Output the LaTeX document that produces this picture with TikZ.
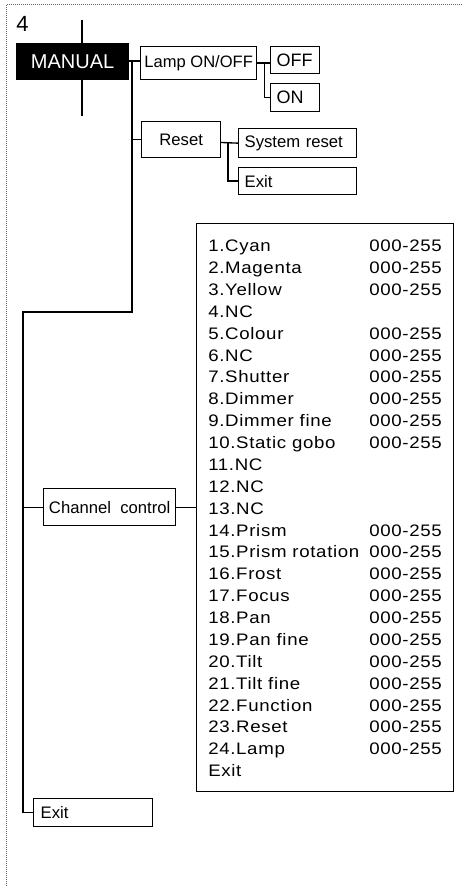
\documentclass[tikz,border=0pt]{standalone}
\usepackage{fontspec}
\setmainfont{Liberation Sans}
\newfontfamily\lsfont{Liberation Sans}[FakeStretch=1.12,LetterSpace=4]
\def\nonev{-}
\begin{document}
\begin{tikzpicture}[x=0.75pt,y=-0.75pt,
  ln/.style={line width=1pt, line cap=rect},
  bx/.style={draw, line width=1pt, inner sep=0pt, anchor=north west, font=\fontsize{12.5}{14}\selectfont},
  lbx/.style={bx, align=left, inner xsep=4.5pt},
  lst/.style={anchor=base west, inner sep=0pt, font=\lsfont\fontsize{12.5}{14}\selectfont},
  frame/.style={draw=gray!80!black, line width=0.75pt, dash pattern=on 0.75pt off 0.75pt}]
\useasboundingbox (0,0) rectangle (462,887);
% dotted frame
\coordinate (fc) at (6,5);
\coordinate (fr) at (462,5);
\coordinate (fb) at (6,887);
\draw[frame] (fr) -- (fc) -- (fb);
% page number
\node[anchor=base west, inner sep=0pt, font=\fontsize{16.5}{18}\selectfont] (num) at (16,32) {4};
% MANUAL
\coordinate (vt) at (82,20);
\coordinate (vb) at (82,116);
\draw[line width=1pt] (vt) -- (vb);
\node[bx, fill=black, text=white, minimum width=84pt, minimum height=27pt, font=\fontsize{15}{17}\selectfont] (man) at (16,43) {MANUAL};
% level 1
\node[bx, minimum width=87pt, minimum height=24.75pt, font=\fontsize{12.4}{14}\selectfont] (lamp) at (140,46) {Lamp ON/OFF};
\node[lbx, text width=27.75pt, minimum height=20.25pt, font=\fontsize{13.5}{15}\selectfont] (off) at (270,46) {OFF};
\node[lbx, text width=27.75pt, minimum height=21pt, font=\fontsize{13.5}{15}\selectfont] (on) at (270,83) {ON};
\node[bx, minimum width=59.25pt, minimum height=27pt] (reset) at (141,121) {Reset};
\node[lbx, text width=79.5pt, minimum height=21.75pt] (sys) at (238,128) {System reset};
\node[lbx, text width=79.5pt, minimum height=20.25pt] (exita) at (238,167) {Exit};
\node[bx, minimum width=99pt, minimum height=27.75pt] (chan) at (43,488) {Channel\ \ control};
\node[bx, minimum width=192.75pt, minimum height=426pt] (list) at (196,223) {};
\node[lbx, inner xsep=5.25pt, text width=78.75pt, minimum height=21pt] (exitb) at (33,798) {Exit};
% list entries
\foreach \t/\v [count=\i] in {1.Cyan/000-255, 2.Magenta/000-255, 3.Yellow/000-255, 4.NC/-,
  5.Colour/000-255, 6.NC/000-255, 7.Shutter/000-255, 8.Dimmer/000-255, 9.Dimmer fine/000-255,
  10.Static gobo/000-255, 11.NC/-, 12.NC/-, 13.NC/-, 14.Prism/000-255, 15.Prism rotation/000-255,
  16.Frost/000-255, 17.Focus/000-255, 18.Pan/000-255, 19.Pan fine/000-255, 20.Tilt/000-255,
  21.Tilt fine/000-255, 22.Function/000-255, 23.Reset/000-255, 24.Lamp/000-255, Exit/-}{
  \node[lst] (li\i) at (208,{251.7+21.875*(\i-1)}) {\t};
  \edef\tmpv{\v}
  \ifx\tmpv\nonev\else
    \node[lst] (lv\i) at (369,{251.7+21.875*(\i-1)}) {\v};
  \fi
}
% connectors
\coordinate (t0) at (132,61);
\coordinate (t1) at (132,312);
\coordinate (t2) at (23,312);
\draw[ln] (man.east |- t0) -- (t0 -| lamp.west);
\draw[ln] (t0) -- (t1) -- (t2) |- (exitb.west);
\draw[ln] (t0 |- reset.west) -- (reset.west);
\draw[ln] (t2 |- chan.west) -- (chan.west);
\draw[ln] (chan.east) -- (chan.east -| list.west);
\draw[ln] (lamp.east) -- ++(7,0) coordinate (j1) |- (on.west);
\draw[ln] (j1) -- (j1 -| off.west);
\coordinate (j2) at (228,142.5);
\draw[ln] (reset.east |- j2) -- (sys.west);
\draw[ln] (j2) |- (exita.west);
\end{tikzpicture}
\end{document}
